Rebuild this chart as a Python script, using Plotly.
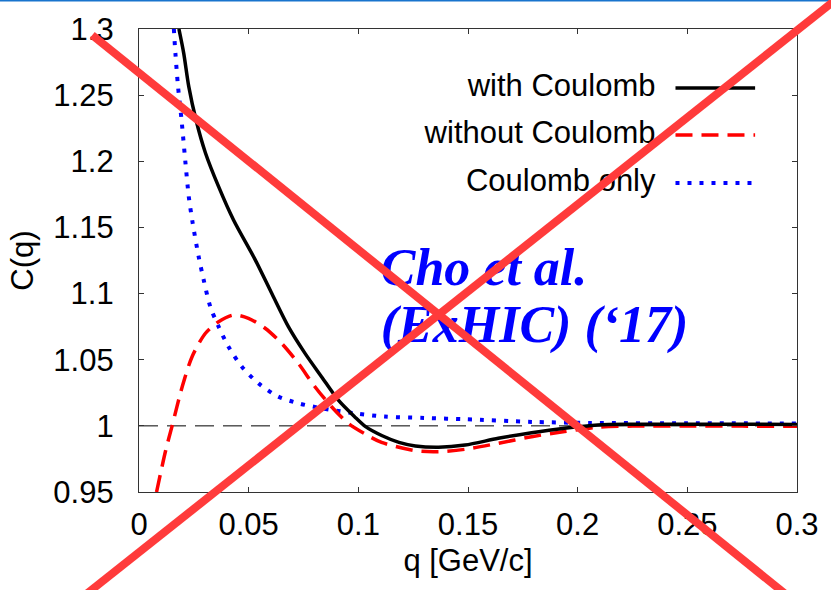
import plotly.graph_objects as go

# ---------------- data ----------------
q_with = [0.0182, 0.0204, 0.0227, 0.0260, 0.0303, 0.0363, 0.0431, 0.0530, 0.0605,
          0.0681, 0.0757, 0.0832, 0.0908, 0.0983, 0.1033, 0.1109, 0.1185, 0.1260,
          0.1366, 0.1487, 0.1638, 0.1790, 0.1940, 0.2092, 0.2250, 0.2500, 0.2750, 0.3000]
c_with = [1.3000, 1.2816, 1.2564, 1.2312, 1.2063, 1.1808, 1.1556, 1.1255, 1.1002,
          1.0750, 1.0548, 1.0372, 1.0196, 1.0069, 0.9994, 0.9925, 0.9875, 0.9848,
          0.9838, 0.9855, 0.9906, 0.9948, 0.9982, 1.0007, 1.0012, 1.0013, 1.0012, 1.0010]

q_without = [0.0080, 0.0121, 0.0151, 0.0197, 0.0242, 0.0303, 0.0363, 0.0431, 0.0499,
             0.0575, 0.0650, 0.0726, 0.0802, 0.0877, 0.0953, 0.1031, 0.1106, 0.1260,
             0.1366, 0.1487, 0.1638, 0.1790, 0.1940, 0.2092, 0.2250, 0.2500, 0.2750, 0.3000]
c_without = [0.9500, 0.9810, 1.0000, 1.0296, 1.0523, 1.0700, 1.0787, 1.0838, 1.0813,
             1.0738, 1.0624, 1.0473, 1.0296, 1.0146, 1.0020, 0.9938, 0.9875, 0.9812,
             0.9805, 0.9823, 0.9868, 0.9918, 0.9957, 0.9990, 0.9998, 0.9999, 0.9998, 0.9997]

q_coul = [0.0159, 0.0166, 0.0178, 0.0194, 0.0212, 0.0227, 0.0245, 0.0272, 0.0295,
          0.0325, 0.0363, 0.0408, 0.0469, 0.0545, 0.0635, 0.0726, 0.0832, 0.0983,
          0.1120, 0.1300, 0.1487, 0.1790, 0.2060, 0.2500, 0.3000]
c_coul = [1.3000, 1.2816, 1.2564, 1.2312, 1.1985, 1.1732, 1.1530, 1.1279, 1.1103,
          1.0901, 1.0750, 1.0598, 1.0447, 1.0321, 1.0221, 1.0171, 1.0133, 1.0095,
          1.0070, 1.0060, 1.0050, 1.0030, 1.0022, 1.0020, 1.0018]

q_unity = [0.0, 0.3]
c_unity = [1.0, 1.0]

series_names = ["with Coulomb", "without Coulomb", "Coulomb only"]
annot_lines = ["Cho et al.", "(ExHIC) (\u201817)"]

x_ticks = [0, 0.05, 0.1, 0.15, 0.2, 0.25, 0.3]
x_ticktext = ["0", "0.05", "0.1", "0.15", "0.2", "0.25", "0.3"]
y_ticks = [0.95, 1.0, 1.05, 1.1, 1.15, 1.2, 1.25, 1.3]
y_ticktext = ["0.95", "1", "1.05", "1.1", "1.15", "1.2", "1.25", "1.3"]

# ---------------- styles ----------------
SANS = "Liberation Sans, Arial, sans-serif"
SERIF = "Liberation Serif, Times New Roman, serif"
styles = [
    dict(color="#000000", width=3.5, dash="solid"),
    dict(color="#ff0000", width=3.5, dash="17px,9px"),
    dict(color="#0000ff", width=4, dash="4px,8px"),
]

fig = go.Figure()

fig.add_trace(go.Scatter(x=q_unity, y=c_unity, mode="lines",
                         line=dict(color="#000000", width=1, dash="19px,9px"),
                         showlegend=False, hoverinfo="skip"))

for qs, cs, name, st in [(q_coul, c_coul, series_names[2], styles[2]),
                         (q_without, c_without, series_names[1], styles[1]),
                         (q_with, c_with, series_names[0], styles[0])]:
    fig.add_trace(go.Scatter(x=qs, y=cs, mode="lines", name=name,
                             line=dict(color=st["color"], width=st["width"],
                                       dash=st["dash"], shape="spline", smoothing=0.8),
                             showlegend=False))

# legend drawn gnuplot-style (label right-aligned, sample to the right)
leg_x_text = 0.2355
leg_rows = [1.2554, 1.2199, 1.1836]
leg_x0, leg_x1 = 0.2446, 0.2809
for name, st, yv in zip(series_names, styles, leg_rows):
    fig.add_trace(go.Scatter(x=[leg_x_text], y=[yv], mode="text", text=[name],
                             textposition="middle left",
                             textfont=dict(family=SANS, size=31, color="#000000"),
                             showlegend=False, hoverinfo="skip", cliponaxis=False))
    fig.add_shape(type="line", xref="x", yref="y", x0=leg_x0, x1=leg_x1, y0=yv, y1=yv,
                  line=dict(color=st["color"], width=st["width"], dash=st["dash"]))

# blue annotation text (as text traces so the red cross lies on top)
for txt, yv in zip(annot_lines, [1.1160, 1.0735]):
    fig.add_trace(go.Scatter(x=[0.1102], y=[yv], mode="text", text=[txt],
                             textposition="middle right",
                             textfont=dict(family=SERIF, size=52, color="#0000ff",
                                           weight="bold", style="italic"),
                             showlegend=False, hoverinfo="skip", cliponaxis=False))

# top blue rule and red cross (paper coordinates)
fig.add_shape(type="line", xref="paper", yref="paper", x0=-0.25, x1=1.1, y0=1.0616, y1=1.0616,
              line=dict(color="#1874cd", width=2), layer="above")
fig.add_shape(type="line", xref="paper", yref="paper", x0=-0.0711, y0=0.9870, x1=1.0, y1=-0.2405,
              line=dict(color="#ff3b3b", width=8), layer="above")
fig.add_shape(type="line", xref="paper", yref="paper", x0=-0.0893, y0=-0.2309, x1=1.0605, y1=1.0652,
              line=dict(color="#ff3b3b", width=8), layer="above")

axis_common = dict(showgrid=False, zeroline=False, showline=True, linecolor="#333333",
                   linewidth=1.2, mirror="ticks", ticks="inside", ticklen=5,
                   tickcolor="#333333", tickwidth=1, automargin=True,
                   tickfont=dict(family=SANS, size=31, color="#000000"))

fig.update_xaxes(range=[0, 0.3], tickvals=x_ticks, ticktext=x_ticktext,
                 ticklabelstandoff=5,
                 title=dict(text="q [GeV/c]", font=dict(family=SANS, size=31, color="#000000"),
                            standoff=8),
                 **axis_common)
fig.update_yaxes(range=[0.95, 1.3], tickvals=y_ticks, ticktext=y_ticktext,
                 ticklabelstandoff=18,
                 title=dict(text="C(q)", font=dict(family=SANS, size=31, color="#000000"),
                            standoff=10),
                 **axis_common)

fig.update_layout(width=831, height=590,
                  margin=dict(l=139, r=31, t=29, b=98, pad=0),
                  paper_bgcolor="#ffffff", plot_bgcolor="#ffffff",
                  showlegend=False)

fig.write_html("out.html")
